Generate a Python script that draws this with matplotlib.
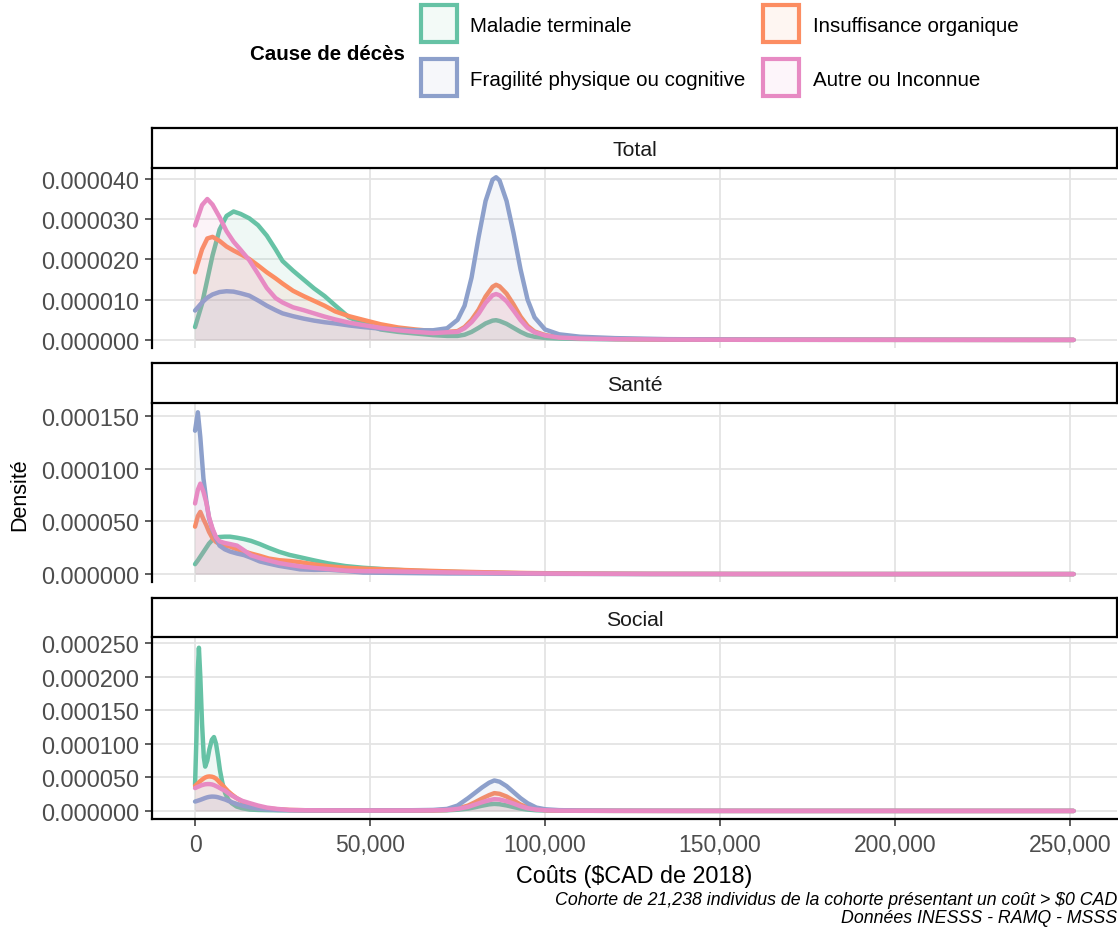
import numpy as np
import matplotlib
matplotlib.use('Agg')
import matplotlib.pyplot as plt
from matplotlib.patches import Rectangle
from matplotlib.ticker import FuncFormatter, FixedLocator

plt.rcParams['font.family'] = ['Liberation Sans', 'DejaVu Sans']

# ---------------- DATA ----------------
causes = ["Maladie terminale", "Insuffisance organique",
          "Fragilité physique ou cognitive", "Autre ou Inconnue"]
colors = ["#66C2A5", "#FC8D62", "#8DA0CB", "#E78AC3"]
facets = ["Total", "Santé", "Social"]

# cost grid (thousands of $CAD 2018) and densities (x 1e-6)
x_total = [0, 2, 3.5, 5, 7, 9, 11, 13, 15.5, 18, 20.5, 23, 25, 28, 31, 34, 37, 40, 44, 48,
           53, 58, 63, 68, 72, 75, 77, 79, 81, 83, 85, 86, 87, 89, 91, 93, 95, 97, 100,
           104, 110, 120, 135, 160, 200, 251]
total_maladie = [3.2, 9, 15, 21, 27.4, 30.8, 31.9, 31.3, 30.2, 28.5, 25.9, 22.5, 19.6, 17.2, 15, 12.8,
                 10.9, 8.6, 5.6, 4.2, 2.6, 2.0, 1.6, 1.2, 1.0, 1.0, 1.3, 2.0, 3.0, 4.1, 4.8, 4.9, 4.7,
                 4.0, 3.0, 2.0, 1.2, 0.8, 0.5, 0.35, 0.25, 0.15, 0.08, 0.03, 0.02, 0.0]
total_insuff = [16.8, 22.5, 25.2, 25.6, 24.6, 23.2, 22.2, 21.3, 20.1, 18.5, 16.8, 15.3, 14.0, 12.2,
                10.9, 9.7, 8.5, 7.1, 5.9, 5.0, 3.9, 3.1, 2.6, 2.2, 2.0, 2.2, 3.2, 5.0, 7.5, 10.8,
                13.2, 13.7, 13.3, 11.5, 8.8, 5.8, 3.5, 2.1, 1.2, 0.7, 0.45, 0.25, 0.12, 0.05, 0.03, 0.01]
total_fragilite = [7.3, 9.3, 10.5, 11.3, 11.9, 12.1, 12.0, 11.6, 11.0, 9.8, 8.5, 7.4, 6.6, 5.9, 5.3,
                   4.8, 4.4, 4.1, 3.6, 3.2, 2.8, 2.6, 2.4, 2.4, 2.9, 5.0, 8.5, 15.5, 25.5, 34.5, 39.8,
                   40.4, 39.6, 34.5, 26.5, 17.5, 10.0, 5.6, 2.6, 1.4, 0.8, 0.45, 0.2, 0.08, 0.04, 0.01]
total_autre = [28.4, 33.5, 35.0, 33.6, 30.5, 27.0, 24.4, 22.4, 19.8, 16.4, 12.9, 10.4, 9.3, 8.1, 7.4,
               6.6, 5.8, 5.1, 4.3, 3.7, 3.0, 2.4, 2.0, 1.7, 1.9, 2.0, 2.9, 4.4, 6.5, 9.2, 11.1, 11.4,
               11.1, 9.6, 7.3, 4.9, 3.0, 1.9, 1.1, 0.6, 0.35, 0.2, 0.1, 0.04, 0.02, 0.01]

x_sante = [0, 0.8, 1.5, 2.4, 3.2, 4, 5, 6, 7, 8.5, 10, 12, 14, 16, 18.5, 21, 24, 27, 30, 34, 38, 43,
           48, 55, 63, 72, 82, 95, 110, 130, 160, 200, 251]
sante_maladie = [9.4, 13, 16.5, 21, 25, 29, 32.5, 34.5, 35.2, 35.5, 35.5, 34.5, 33.2, 31.5, 28.5, 25,
                 21.2, 18.2, 16, 13, 10.2, 7.6, 6.0, 4.5, 3.1, 2.2, 1.4, 0.7, 0.3, 0.12, 0.05, 0.02, 0.01]
sante_insuff = [45, 55, 59, 52, 46.5, 40, 34, 30.5, 28.5, 27, 26.1, 23.5, 21.5, 19.5, 17.3, 14.8, 13.2,
                12.4, 11.3, 9.2, 7.5, 6.0, 5.2, 4.4, 3.5, 2.6, 1.8, 1.0, 0.5, 0.2, 0.08, 0.03, 0.01]
sante_fragilite = [136, 153.5, 130, 90.6, 70, 53, 42, 34, 27, 23.5, 21.4, 19.5, 18, 15.5, 12, 10.0,
                   7.8, 6.2, 4.5, 4.0, 4.2, 3.0, 1.5, 1.2, 0.9, 0.6, 0.5, 0.3, 0.15, 0.08, 0.05, 0.02, 0.01]
sante_autre = [67, 80, 85.8, 78, 68, 54, 43, 35, 31, 29.5, 28.5, 27, 22.5, 17.8, 15.2, 13, 10.5, 8.8,
               7.3, 5.9, 4.8, 3.3, 2.8, 2.6, 2.2, 1.6, 1.2, 0.6, 0.3, 0.15, 0.08, 0.03, 0.01]

x_social = [0, 0.4, 0.8, 1.1, 1.5, 2.0, 2.5, 2.9, 3.5, 4.1, 4.8, 5.4, 6.0, 6.6, 7.1, 7.8, 8.6, 9.5,
            10.5, 11.9, 13.5, 15.7, 18, 20.5, 23.5, 27, 32, 40, 50, 60, 68, 72, 75, 78, 80, 82, 84,
            85.5, 87, 89, 91, 93, 95, 97.5, 100, 104, 110, 120, 140, 170, 200, 251]
social_maladie = [39, 110, 210, 243, 200, 130, 80, 66, 75, 92, 106, 110, 100, 80, 61, 42, 26.5, 17,
                  11.5, 6.5, 4, 2.0, 1.5, 1.2, 1.0, 1.0, 0.9, 0.8, 0.8, 0.7, 0.8, 1.0, 1.8, 3.5, 5.5,
                  7.8, 9.8, 10.5, 10.0, 8.2, 5.8, 3.5, 2.0, 1.0, 0.6, 0.4, 0.2, 0.1, 0.05, 0.02, 0.01, 0.0]
social_insuff = [37.4, 39, 41, 42.5, 44.5, 46.5, 48.5, 49.8, 51, 51.4, 51, 50, 48, 45, 42, 38.5, 34,
                 29, 24.5, 19, 14, 9, 6, 4, 2.5, 1.5, 1.0, 0.8, 0.7, 0.7, 0.9, 1.5, 3.5, 8, 13, 18.5,
                 23.5, 26.5, 25.5, 21.5, 15.5, 9.5, 5.5, 2.5, 1.2, 0.6, 0.3, 0.15, 0.06, 0.02, 0.01, 0.0]
social_fragilite = [14, 14.6, 15.3, 15.8, 16.5, 17.5, 18.5, 19.3, 20.3, 21, 21.4, 21.3, 21, 20.3,
                    19.5, 18.3, 17, 15, 13, 10.5, 8, 5.5, 3.5, 2.3, 1.5, 1.0, 0.8, 0.8, 0.8, 0.9, 1.5,
                    3.0, 8, 19, 27, 35, 42, 45.4, 43.5, 37, 28, 19, 11.5, 5, 2.5, 1.2, 0.6, 0.3, 0.1,
                    0.03, 0.01, 0.0]
social_autre = [34, 35, 36, 36.5, 37.5, 38.5, 39.2, 39.7, 40, 40, 39.5, 38.5, 37, 35.5, 34, 32, 30,
                26.5, 23, 19, 15, 11.5, 8, 5, 3, 1.5, 1.0, 0.8, 0.7, 0.7, 0.9, 1.5, 3.0, 6, 9.5, 13,
                16, 17.5, 17, 14.5, 11, 7, 4, 2, 1.0, 0.5, 0.3, 0.15, 0.06, 0.02, 0.01, 0.0]

y_ticks_total = [0, 10, 20, 30, 40]
y_ticks_sante = [0, 50, 100, 150]
y_ticks_social = [0, 50, 100, 150, 200, 250]
x_ticks = [0, 50000, 100000, 150000, 200000, 250000]

panel_data = [
    (x_total, [total_maladie, total_insuff, total_fragilite, total_autre], y_ticks_total, (-2.0, 42.7)),
    (x_sante, [sante_maladie, sante_insuff, sante_fragilite, sante_autre], y_ticks_sante, (-7.5, 162.3)),
    (x_social, [social_maladie, social_insuff, social_fragilite, social_autre], y_ticks_social, (-12.0, 259.0)),
]

# ---------------- LAYOUT (pixels) ----------------
W, H = 1118, 928
fig = plt.figure(figsize=(W / 100, H / 100), dpi=100)

def fx(p):
    return p / W

def fy(p):
    return 1 - p / H

LEFT, RIGHT = 152, 1117
strips_px = [(129, 169), (364, 404), (599, 638)]
axes_px = [(169, 349), (404, 583), (638, 820)]

tick_col = "#4D4D4D"

for i, (name, (st, sb), (at, ab), (xs, ys_list, yt, ylim)) in enumerate(
        zip(facets, strips_px, axes_px, panel_data)):
    ax = fig.add_axes([fx(LEFT), fy(ab), (RIGHT - LEFT) / W, (ab - at) / H])
    xv = np.array(xs) * 1000.0
    for k, (ys, c) in enumerate(zip(ys_list, colors)):
        yv = np.array(ys) * 1e-6
        ax.fill_between(xv, yv, 0, color=c, alpha=0.1, lw=0, zorder=2 + 2 * k)
        ax.plot(xv, yv, color=c, lw=3.2, solid_capstyle='round', solid_joinstyle='round',
                zorder=3 + 2 * k)
    ax.set_xlim(-12300, 263400)
    ax.set_ylim(ylim[0] * 1e-6, ylim[1] * 1e-6)
    ax.yaxis.set_major_locator(FixedLocator([v * 1e-6 for v in yt]))
    ax.yaxis.set_major_formatter(FuncFormatter(lambda v, p: f"{v:.6f}"))
    ax.xaxis.set_major_locator(FixedLocator(x_ticks))
    ax.xaxis.set_major_formatter(FuncFormatter(lambda v, p: f"{v:,.0f}"))
    ax.grid(True, color="#E4E4E4", lw=1.3, zorder=0)
    ax.set_axisbelow(True)
    for s in ["top", "right"]:
        ax.spines[s].set_visible(False)
    ax.spines["left"].set_color("black")
    ax.spines["left"].set_linewidth(1.6)
    ax.tick_params(axis='y', length=5, width=1.1, color="#333333", labelsize=16.8,
                   labelcolor=tick_col, pad=4)
    if i < 2:
        ax.spines["bottom"].set_visible(False)
        ax.tick_params(axis='x', length=0, labelbottom=False)
    else:
        ax.spines["bottom"].set_color("black")
        ax.spines["bottom"].set_linewidth(1.6)
        ax.tick_params(axis='x', length=5, width=1.1, color="#333333", labelsize=16.5,
                       labelcolor=tick_col, pad=5)

    # strip
    sax = fig.add_axes([fx(LEFT), fy(sb), (RIGHT - LEFT) / W, (sb - st) / H])
    sax.set_xticks([])
    sax.set_yticks([])
    for s in sax.spines.values():
        s.set_color("black")
        s.set_linewidth(1.6)
    sax.set_facecolor("white")
    sax.text(0.5, 0.5, name, ha='center', va='center_baseline', fontsize=15.3, color="#1A1A1A",
             transform=sax.transAxes)

# axis titles
fig.text(fx(20), fy(495), "Densité", rotation=90, ha='center', va='center', fontsize=15.5,
         color="black")
fig.text(fx((LEFT + RIGHT) / 2), fy(874), "Coûts ($CAD de 2018)", ha='center', va='center_baseline',
         fontsize=16.8, color="black")

# caption
fig.text(fx(1117), fy(899), "Cohorte de 21,238 individus de la cohorte présentant un coût > $0 CAD",
         ha='right', va='center_baseline', fontsize=12.8, style='italic', color="black")
fig.text(fx(1117), fy(917), "Données INESSS - RAMQ - MSSS",
         ha='right', va='center_baseline', fontsize=12.8, style='italic', color="black")

# legend (manual, 2x2)
fig.text(fx(250), fy(52), "Cause de décès", ha='left', va='center_baseline', fontsize=14.8,
         fontweight='bold', color="black")
key_pos = [(438.5, 24), (781, 24), (438.5, 78), (781, 78)]  # order: maladie, insuff, fragilite, autre
text_x = {438.5: 470, 781: 813}
for (cx, cy), lab, c in zip(key_pos, causes, colors):
    r = Rectangle((fx(cx - 18), fy(cy + 18.5)), 36 / W, 37 / H, transform=fig.transFigure,
                  facecolor=matplotlib.colors.to_rgba(c, 0.08), edgecolor=c, lw=3)
    fig.add_artist(r)
    fig.text(fx(text_x[cx]), fy(cy + 1), lab, ha='left', va='center_baseline', fontsize=14.8,
             color="black")

fig.savefig("out.png", dpi=100, facecolor="white")
